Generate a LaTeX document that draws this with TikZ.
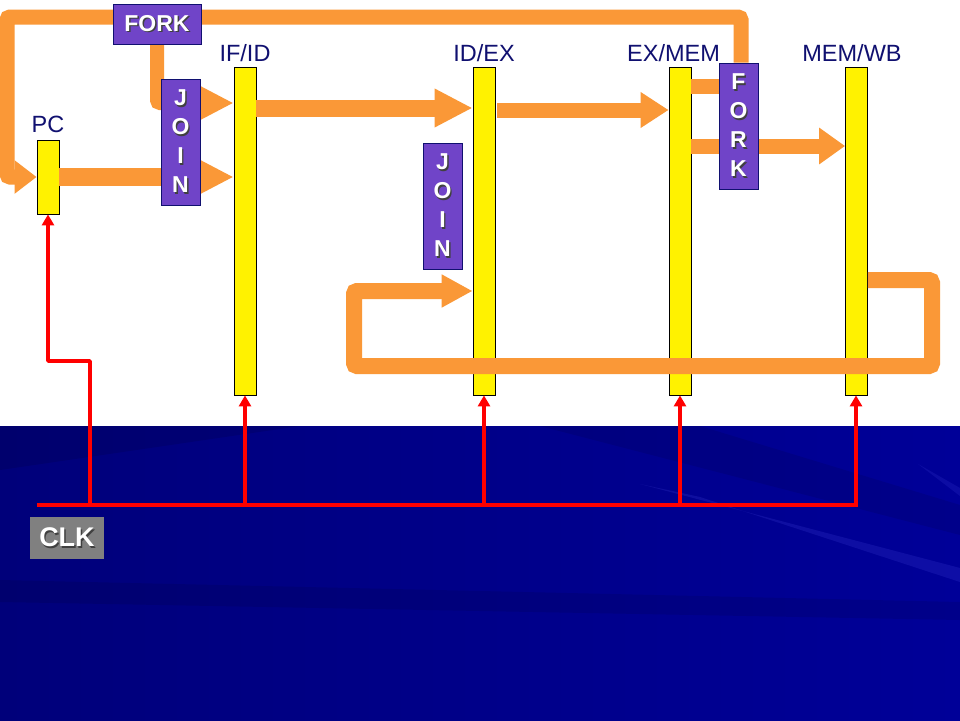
\documentclass[tikz,border=0pt]{standalone}
\usepackage{fontspec}
\setmainfont{Liberation Sans}
\usetikzlibrary{arrows.meta,calc}
\definecolor{orng}{RGB}{250,152,55}
\definecolor{purp}{RGB}{112,68,200}
\definecolor{navy}{RGB}{16,16,112}
\definecolor{bgL}{RGB}{0,0,122}
\definecolor{bgR}{RGB}{0,0,152}
\definecolor{clkgray}{RGB}{128,128,128}
\newcommand\sht[1]{\makebox[0pt][l]{\kern1.4pt\raisebox{-1.4pt}{\textcolor{black!75}{#1}}}#1}
\pgfdeclarelayer{bgl}
\pgfdeclarelayer{regl}
\pgfdeclarelayer{bandl}
\pgfsetlayers{bgl,regl,bandl,main}
\begin{document}
\begin{tikzpicture}[x=1pt,y=-1pt,
  reg/.style={draw=black, line width=0.8pt, fill=yellow, inner sep=0pt, minimum width=22pt},
  lbl/.style={text=navy, font=\fontsize{23.5}{28}\selectfont, inner sep=0pt, anchor=base},
  pbox/.style={draw=navy, line width=0.8pt, fill=purp, inner sep=0pt, text=white,
    font=\fontsize{23}{29}\bfseries\selectfont, align=center},
  vbox/.style={pbox, minimum width=39pt, minimum height=126pt},
  band/.style={draw=orng, line width=#1, rounded corners=3pt},
  band/.default=15pt,
  clk/.style={draw=red, line width=3.5pt},
  clkarrow/.style={clk, -{Triangle[length=11pt,width=12pt]}}
]
\useasboundingbox (0,0) rectangle (960,720);
% background
\begin{pgfonlayer}{bgl}
  \fill[white] (0,0) rectangle (960,426);
  \shade[left color=bgL, right color=bgR] (0,426) rectangle (960,720);
  \fill[black, opacity=0.10] (0,426) -- (300,426) -- (0,470) -- cycle;
  \fill[black, opacity=0.09] (540,426) -- (700,426) -- (960,505) -- (960,535) -- cycle;
  \fill[black, opacity=0.09] (0,580) -- (960,602) -- (960,620) -- (0,602) -- cycle;
  \fill[blue!60!white, opacity=0.14] (640,484) -- (960,568) -- (960,582) -- (700,497) -- cycle;
  \fill[blue!60!white, opacity=0.12] (918,464) -- (960,488) -- (960,496) -- (926,470) -- cycle;
\end{pgfonlayer}
% registers
\begin{pgfonlayer}{regl}
  \node[reg, minimum height=74pt]  (pc)    at (48,177)  {};
  \node[reg, minimum height=328pt] (ifid)  at (245,231) {};
  \node[reg, minimum height=328pt] (idex)  at (484,231) {};
  \node[reg, minimum height=328pt] (exmem) at (680,231) {};
  \node[reg, minimum height=328pt] (memwb) at (856.5,231) {};
\end{pgfonlayer}
% labels
\node[lbl] (pcl)    at (48,132)  {PC};
\node[lbl] (ifidl)  at (245,61)  {IF/ID};
\node[lbl] (idexl)  at (484,61)  {ID/EX};
\node[lbl] (exmeml) at (673.5,61) {EX/MEM};
\node[lbl] (memwbl) at (852,61)  {MEM/WB};
% fork / join boxes
\node[pbox, minimum width=88pt, minimum height=40pt] (forkT) at (157,24) {\sht{FORK}};
\node[vbox] (joinL) at (180.5,142) {\sht{J}\\\sht{O}\\\sht{I}\\\sht{N}};
\node[vbox] (joinM) at (442.5,206) {\sht{J}\\\sht{O}\\\sht{I}\\\sht{N}};
\node[vbox] (forkR) at (738.5,126) {\sht{F}\\\sht{O}\\\sht{R}\\\sht{K}};
% helper levels
\coordinate (y86)  at (0,86);
\coordinate (y103) at (0,103);
\coordinate (y108) at (0,108);
\coordinate (y110) at (0,110);
\coordinate (y146) at (0,146);
\coordinate (y280) at (0,280);
\coordinate (y291) at (0,291);
% orange data paths
\begin{pgfonlayer}{bandl}
  \draw[band=15pt, -{Triangle[length=22pt,width=32pt]}]
    ([xshift=2.5pt]forkR.north) -- (741,17) -- (7,17) -- (7,177) -- (pc.west);
  \draw[band=14pt, -{Triangle[length=36pt,width=34pt]}]
    (forkT.south) -- (157,103) -- (ifid.west |- y103);
  \draw[band=18pt, -{Triangle[length=36pt,width=34pt]}]
    (pc.east) -- (ifid.west |- pc.east);
  \draw[band=17pt, -{Triangle[length=38pt,width=36pt]}]
    (ifid.east |- y108) -- (idex.west |- y108);
  \draw[band=15pt, -{Triangle[length=28pt,width=34pt]}]
    ([xshift=2pt]idex.east |- y110) -- (exmem.west |- y110);
  \draw[band=15pt] (exmem.east |- y86) -- (forkR.west |- y86);
  \draw[band=15pt, -{Triangle[length=26pt,width=35pt]}]
    (exmem.east |- y146) -- (memwb.west |- y146);
  \draw[band=16pt, -{Triangle[length=31pt,width=31pt]}]
    (memwb.east |- y280) -- (932,280) -- (932,366) -- (354,366) -- (354,291) -- (idex.west |- y291);
\end{pgfonlayer}
% clock
\coordinate (clkL) at (37,505);
\coordinate (clkR) at (858,505);
\coordinate (pcb)  at (90,505);
\draw[clk] (clkL) -- (clkR);
\draw[clkarrow, line join=round] (pcb) -- ++(0,-144) -| (pc.south);
\draw[clkarrow] (ifid.south |- clkL) -- (ifid.south);
\draw[clkarrow] (idex.south |- clkL) -- (idex.south);
\draw[clkarrow] (exmem.south |- clkL) -- (exmem.south);
\draw[clkarrow] ([xshift=-0.5pt]memwb.south |- clkL) -- ([xshift=-0.5pt]memwb.south);
\node[fill=clkgray, minimum width=74pt, minimum height=42pt, inner sep=0pt, text=white,
  font=\fontsize{27}{30}\bfseries\selectfont] (clkbox) at (67,538) {\sht{CLK}};
\end{tikzpicture}
\end{document}
